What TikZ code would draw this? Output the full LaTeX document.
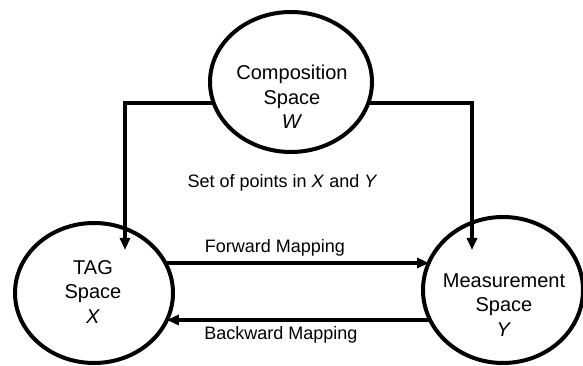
\documentclass[tikz,border=0pt]{standalone}
\usepackage{fontspec}
\setmainfont{Liberation Sans}
\usetikzlibrary{shapes.geometric,arrows.meta,calc}
\begin{document}
\begin{tikzpicture}[x=1pt,y=1pt,
  space/.style={ellipse,draw,line width=4pt,inner sep=0pt},
  spacetext/.style={align=center,font=\fontsize{20}{24.5}\selectfont,inner sep=0pt},
  lbl/.style={font=\fontsize{18}{20}\selectfont,inner sep=0pt},
  conn/.style={line width=3.1pt},
  arr/.style={conn,-{Triangle[length=12pt,width=10pt]}}]
\useasboundingbox (0,0) rectangle (583,366);
% the three spaces
\node[space,minimum width=162pt,minimum height=140pt] (W) at (291,284) {};
\node[space,minimum width=158pt,minimum height=140pt] (X) at (94,73) {};
\node[space,minimum width=160pt,minimum height=146pt] (Y) at (503,76) {};
\node[spacetext] (Wt) at (292,269) {Composition\\Space\\\textit{W}};
\node[spacetext] (Xt) at (93,74) {TAG\\Space\\\textit{X}};
\node[spacetext] (Yt) at (504,61) {Measurement\\Space\\\textit{Y}};
% connector end points on the borders
\coordinate (wl) at ($(W.center)+(-77.3,-21)$);
\coordinate (wr) at ($(W.center)+(77.3,-21)$);
\coordinate (xin) at ($(X.center)+(31,43)$);
\coordinate (yin) at ($(Y.center)+(-31,40)$);
\coordinate (xf) at ($(X.center)+(71.4,30)$);
\coordinate (yf) at ($(Y.center)+(-74,27)$);
\coordinate (yb) at ($(Y.center)+(-73,-30)$);
\coordinate (xb) at ($(X.center)+(72.9,-27)$);
% connectors
\draw[arr] (wl) -| (xin);
\draw[arr] (wr) -| (yin);
\draw[arr] (xf) -- (yf);
\draw[arr] (yb) -- (xb);
% labels
\node[lbl] (set) at (282.5,183) {Set of points in \textit{X} and \textit{Y}};
\node[lbl] (fwd) at (275,118) {Forward Mapping};
\node[lbl] (bwd) at (281,31) {Backward Mapping};
\end{tikzpicture}
\end{document}
